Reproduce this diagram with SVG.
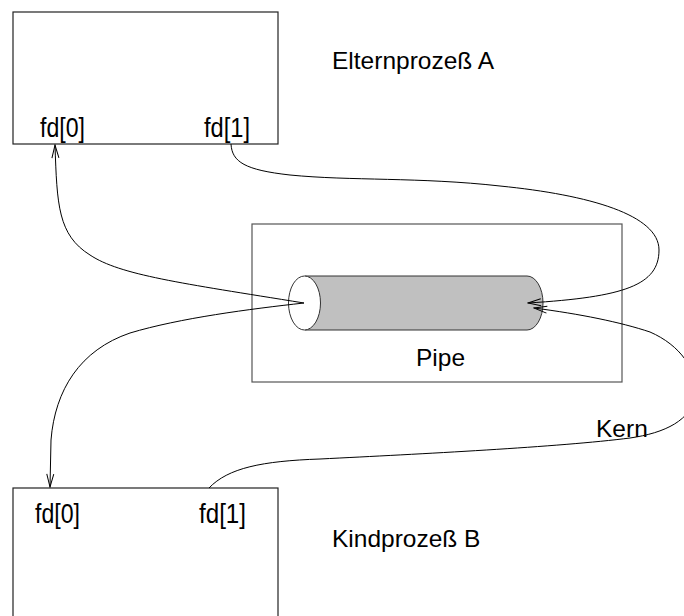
<svg xmlns="http://www.w3.org/2000/svg" width="684" height="616" viewBox="0 0 684 616">
<style>
.box{fill:none;stroke:#222;stroke-width:1.2}
.pbox{fill:none;stroke:#555;stroke-width:1.2}
.t{font-family:"Liberation Sans",Arial,sans-serif;font-size:24.5px;fill:#000}
.fd{font-family:"Liberation Sans",Arial,sans-serif;font-size:27px;fill:#000}
.c{fill:none;stroke:#000;stroke-width:1}
</style>
<defs>
<marker id="arr" viewBox="-15 -5 16 10" refX="0" refY="0" markerWidth="16" markerHeight="10" markerUnits="userSpaceOnUse" orient="auto-start-reverse">
<path d="M-13,-3.5 L0,0 L-13,3.5" fill="none" stroke="#000" stroke-width="1"/>
</marker>
</defs>
<rect width="684" height="616" fill="#fff"/>
<g id="parentA">
<rect class="box" x="13" y="12" width="265" height="132"/>
<text class="fd" x="40" y="137" textLength="45" lengthAdjust="spacingAndGlyphs">fd[0]</text>
<text class="fd" x="204" y="137" textLength="46" lengthAdjust="spacingAndGlyphs">fd[1]</text>
<text class="t" x="332" y="69">Elternprozeß A</text>
</g>
<g id="pipe">
<rect class="pbox" x="252" y="224" width="370" height="158"/>
<path d="M305,276 L527,276 A16,27 0 0 1 527,330 L305,330 Z" fill="#c0c0c0" stroke="#333" stroke-width="1"/>
<ellipse cx="304.5" cy="303" rx="16" ry="27" fill="#fff" stroke="#333" stroke-width="1"/>
<text class="t" x="416" y="366">Pipe</text>
</g>
<g id="childB">
<rect class="box" x="13" y="488" width="265" height="140"/>
<text class="fd" x="35" y="523" textLength="45" lengthAdjust="spacingAndGlyphs">fd[0]</text>
<text class="fd" x="199" y="523" textLength="47" lengthAdjust="spacingAndGlyphs">fd[1]</text>
<text class="t" x="332" y="547">Kindprozeß B</text>
</g>
<g id="kern">
<text class="t" x="596" y="437">Kern</text>
</g>
<g id="connectors">
<path class="c" marker-start="url(#arr)" d="M55,145 C57,205 58,235 90,255 C120,275 180,283 304,303"/>
<path class="c" marker-end="url(#arr)" d="M304,303 C250,309 180,318 130,333 C80,350 55,390 51,440 L50,487"/>
<path class="c" marker-end="url(#arr)" d="M231,144 C232,162 245,170 290,175 C350,181 420,177 500,186 C590,195 659,215 659,250 C659,285 625,297 528,303"/>
<path class="c" marker-end="url(#arr)" d="M209,488 C228,468 262,461 320,459 C420,454 560,447 630,438 C665,433 692,420 695,395 C698,370 680,345 650,332 C620,322 580,314 534,308"/>
</g>
</svg>
